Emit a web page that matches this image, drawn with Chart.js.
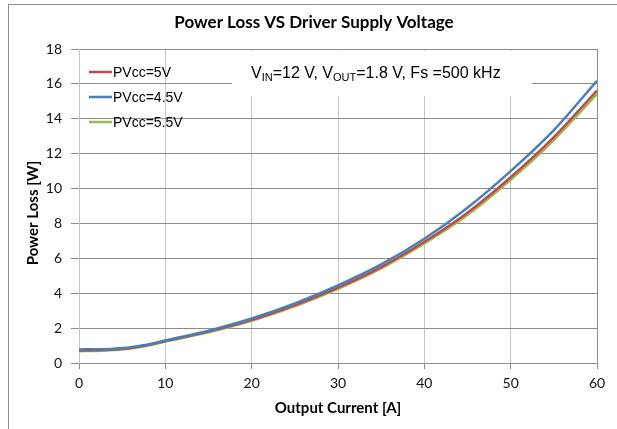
<!DOCTYPE html>
<html>
<head>
<meta charset="utf-8">
<script src="https://cdn.jsdelivr.net/npm/chart.js@4"></script>
<style>
  html, body { margin: 0; padding: 0; background: #fff; }
  #wrap { width: 617px; height: 429px; position: relative; }
</style>
</head>
<body>
<div id="wrap"><canvas id="chart" width="617" height="429"></canvas></div>
<script>
// ---- data ----
const currents  = [0, 2, 4, 6, 8, 10, 15, 20, 25, 30, 35, 40, 45, 50, 55, 60];
const loss5V    = [0.72, 0.73, 0.77, 0.86, 1.03, 1.26, 1.80, 2.47, 3.32, 4.32, 5.50, 6.95, 8.62, 10.65, 12.95, 15.62];
const loss4p5V  = [0.78, 0.79, 0.82, 0.90, 1.06, 1.29, 1.85, 2.55, 3.42, 4.45, 5.65, 7.12, 8.90, 11.00, 13.35, 16.18];
const loss5p5V  = [0.68, 0.69, 0.74, 0.83, 1.00, 1.23, 1.76, 2.42, 3.25, 4.25, 5.42, 6.85, 8.48, 10.50, 12.78, 15.43];
const seriesNames = ['PVcc=5V', 'PVcc=4.5V', 'PVcc=5.5V'];
const xTicks = [0, 10, 20, 30, 40, 50, 60];
const yTicks = [0, 2, 4, 6, 8, 10, 12, 14, 16, 18];

const RED = '#be4b48', BLUE = '#4a7ebb', GREEN = '#98b954';
const GRID_DARK = '#8c8c8c', GRID_LIGHT = '#c4c4c4';

const toPts = arr => arr.map((v, i) => ({ x: currents[i], y: v }));

// frame, title, axis titles, legend and the condition label
const decorPlugin = {
  id: 'decor',
  beforeDraw(chart) {
    const c = chart.ctx;
    c.save();
    c.fillStyle = '#fff';
    c.fillRect(0, 0, chart.width, chart.height);
    c.strokeStyle = GRID_DARK;
    c.lineWidth = 1;
    c.beginPath();
    c.moveTo(8.5, chart.height);
    c.lineTo(8.5, 4.5);
    c.lineTo(chart.width, 4.5);
    c.stroke();
    c.restore();
  },
  beforeDatasetsDraw(chart) {
    // white box behind the operating-condition note
    const c = chart.ctx;
    c.save();
    c.fillStyle = '#fff';
    c.fillRect(232, 51, 300, 45);
    c.restore();
  },
  afterDraw(chart) {
    const c = chart.ctx;
    const a = chart.chartArea;
    c.save();
    c.fillStyle = '#000';
    c.textAlign = 'center';
    c.textBaseline = 'middle';

    c.font = 'bold 17px Lato';
    c.fillText('Power Loss VS Driver Supply Voltage', 314, 23);

    c.font = 'bold 15px Lato';
    c.fillText('Output Current [A]', (a.left + a.right) / 2, 408);
    c.save();
    c.translate(33, 213);
    c.rotate(-Math.PI / 2);
    c.fillText('Power Loss [W]', 0, 0);
    c.restore();

    // legend
    const colors = [RED, BLUE, GREEN];
    const rows = [72, 97, 122];
    c.font = '14px "Liberation Sans"';
    c.textAlign = 'left';
    seriesNames.forEach((name, i) => {
      c.strokeStyle = colors[i];
      c.lineWidth = 2.5;
      c.beginPath();
      c.moveTo(89, rows[i]);
      c.lineTo(112, rows[i]);
      c.stroke();
      c.fillStyle = '#000';
      c.fillText(name, 113, rows[i] + 1);
    });

    // V_IN=12 V, V_OUT=1.8 V, Fs =500 kHz
    const parts = [['V', 0], ['IN', 1], ['=12 V, V', 0], ['OUT', 1], ['=1.8 V, Fs =500 kHz', 0]];
    let x = 251;
    const base = 78;
    c.textBaseline = 'alphabetic';
    parts.forEach(([t, sub]) => {
      c.font = sub ? '11px "Liberation Sans"' : '16px "Liberation Sans"';
      c.fillText(t, x, sub ? base + 3 : base);
      x += c.measureText(t).width;
    });
    c.restore();
  }
};

const ds = (label, data, color) => ({
  label, data: toPts(data),
  borderColor: color, backgroundColor: color,
  borderWidth: 2.5, pointRadius: 0,
  cubicInterpolationMode: 'monotone', fill: false
});

new Chart(document.getElementById('chart'), {
  type: 'line',
  data: {
    datasets: [
      ds(seriesNames[1], loss4p5V, BLUE),
      ds(seriesNames[0], loss5V, RED),
      ds(seriesNames[2], loss5p5V, GREEN)
    ]
  },
  options: {
    responsive: false,
    animation: false,
    events: [],
    layout: { padding: { top: 49, right: 20, left: 0, bottom: 0 } },
    plugins: { legend: { display: false }, title: { display: false }, tooltip: { enabled: false } },
    scales: {
      x: {
        type: 'linear', min: 0, max: 60,
        afterBuildTicks: s => { s.ticks = xTicks.map(v => ({ value: v })); },
        afterFit: s => { s.height = 66; },
        border: { color: GRID_DARK, width: 1 },
        grid: {
          color: ctx => (ctx.tick && ctx.tick.value === 60 ? GRID_DARK : GRID_LIGHT),
          tickLength: 6, tickColor: GRID_DARK
        },
        ticks: { color: '#111', font: { family: 'Lato', size: 14 }, padding: 6, maxRotation: 0 }
      },
      y: {
        min: 0, max: 18,
        afterBuildTicks: s => { s.ticks = yTicks.map(v => ({ value: v })); },
        afterFit: s => { s.width = 79; },
        border: { color: GRID_LIGHT, width: 1 },
        grid: { color: GRID_DARK, tickLength: 8, tickColor: GRID_DARK },
        ticks: { color: '#111', font: { family: 'Lato', size: 14 }, padding: 9 }
      }
    }
  },
  plugins: [decorPlugin]
});
</script>
</body>
</html>
